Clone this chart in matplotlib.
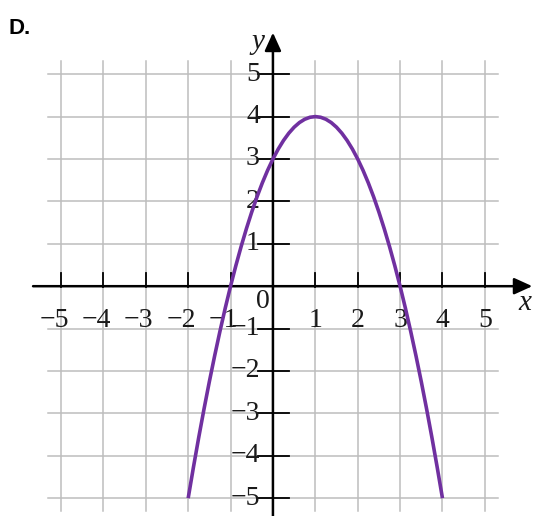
import matplotlib.pyplot as plt

# points on the parabola, read at eighth steps
curve_x = [-2, -1.875, -1.75, -1.625, -1.5, -1.375, -1.25, -1.125, -1, -0.875, -0.75, -0.625,
           -0.5, -0.375, -0.25, -0.125, 0, 0.125, 0.25, 0.375, 0.5, 0.625, 0.75, 0.875, 1,
           1.125, 1.25, 1.375, 1.5, 1.625, 1.75, 1.875, 2, 2.125, 2.25, 2.375, 2.5, 2.625,
           2.75, 2.875, 3, 3.125, 3.25, 3.375, 3.5, 3.625, 3.75, 3.875, 4]
curve_y = [-5, -4.265625, -3.5625, -2.890625, -2.25, -1.640625, -1.0625, -0.515625, 0,
           0.484375, 0.9375, 1.359375, 1.75, 2.109375, 2.4375, 2.734375, 3, 3.234375,
           3.4375, 3.609375, 3.75, 3.859375, 3.9375, 3.984375, 4,
           3.984375, 3.9375, 3.859375, 3.75, 3.609375, 3.4375, 3.234375, 3, 2.734375,
           2.4375, 2.109375, 1.75, 1.359375, 0.9375, 0.484375, 0, -0.515625, -1.0625,
           -1.640625, -2.25, -2.890625, -3.5625, -4.265625, -5]

ticks = [-5, -4, -3, -2, -1, 1, 2, 3, 4, 5]
grid_lim = 5.3

fig = plt.figure(figsize=(5.34, 5.16), dpi=100)
ax = fig.add_axes([0, 0, 1, 1])
ax.set_xlim(-6.44, 6.16)
ax.set_ylim(-5.42, 6.75)
ax.axis('off')

# grid
for t in ticks + [0]:
    ax.plot([t, t], [-grid_lim, grid_lim], color='#bdbdbd', lw=1.1, zorder=1)
    ax.plot([-grid_lim, grid_lim], [t, t], color='#bdbdbd', lw=1.1, zorder=1)

# axes with arrows
arrow = dict(arrowstyle='-|>,head_length=1.1,head_width=0.5', color='black',
             lw=1.8, mutation_scale=10, shrinkA=0, shrinkB=0)
ax.annotate('', xy=(6.12, 0), xytext=(-5.66, 0), arrowprops=arrow, zorder=3)
ax.annotate('', xy=(0, 5.98), xytext=(0, -5.42), arrowprops=arrow, zorder=3)

# tick marks
for t in ticks:
    ax.plot([t, t], [-0.03, 0.32], color='black', lw=1.3, zorder=3)
    ax.plot([-0.35, 0.38], [t, t], color='black', lw=1.3, zorder=3)

num = dict(family='Liberation Serif', fontsize=20, color='#1a1a1a', zorder=4)
for t in ticks:
    if t < 0:
        ax.text(t + 0.18, -0.8, '\u2212%d' % -t, ha='right', va='center', **num)
        ax.text(-0.31, t, '\u2212%d' % -t, ha='right', va='center', **num)
    else:
        ax.text(t, -0.8, '%d' % t, ha='center', va='center', **num)
        ax.text(-0.31, t, '%d' % t, ha='right', va='center', **num)
ax.text(-0.24, -0.36, '0', ha='center', va='center', **num)

ax.text(5.94, -0.4, 'x', ha='center', va='center', family='Liberation Serif',
        style='italic', fontsize=21, color='#1a1a1a')
ax.text(-0.36, 5.75, 'y', ha='center', va='center', family='Liberation Serif',
        style='italic', fontsize=21, color='#1a1a1a')

# the parabola
ax.plot(curve_x, curve_y, color='#7030a0', lw=2.6, solid_capstyle='butt', zorder=5)

fig.text(0.015, 0.945, 'D.', fontsize=16, fontweight='bold', family='Liberation Sans',
         ha='left', va='center')

fig.savefig('out.png', dpi=100)
